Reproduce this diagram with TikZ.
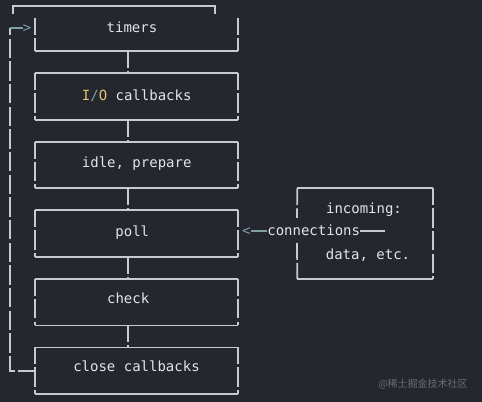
\documentclass[tikz,border=0pt]{standalone}
\usepackage{fontspec}
\setmonofont{DejaVu Sans Mono}
\newfontfamily\cjkfont{Noto Sans CJK SC}
\usetikzlibrary{positioning}
\definecolor{bgcolor}{RGB}{37,39,47}
\definecolor{linecolor}{RGB}{200,202,206}
\definecolor{textcolor}{RGB}{226,228,230}
\definecolor{tipcolor}{RGB}{125,160,165}
\definecolor{iocolor}{RGB}{226,192,112}
\definecolor{markcolor}{RGB}{105,108,116}
\newcommand{\IOname}{\textcolor{iocolor}{I}\textcolor{tipcolor}{/}\textcolor{iocolor}{O}}

\begin{document}
\begin{tikzpicture}[
    x=0.75pt, y=-0.75pt,
    node distance=16.5pt and 44.25pt,
    every node/.style={font=\ttfamily\fontsize{10.5pt}{12pt}\selectfont,
                       text=textcolor, inner sep=0pt},
    stage/.style={rectangle, minimum width=152.25pt, minimum height=34.5pt},
    source/.style={rectangle, minimum width=101.25pt, minimum height=67.5pt},
    label/.style={text height=7.5pt, text depth=0pt},
    hline/.style={draw=linecolor, line width=1.3pt},
    vline/.style={hline, dash pattern=on 14.6pt off 2.4pt, dash phase=2pt},
    tipline/.style={draw=tipcolor, line width=1.3pt}
]
\fill[bgcolor] (0,0) rectangle (482,402);
\useasboundingbox (0,0) rectangle (482,402);

% phases of the loop
\node[stage, minimum height=24.75pt] (timers) at (136.5,34.5) {};
\node[stage, below=of timers] (io) {};
\node[stage, below=of io] (idle) {};
\node[stage, below=of idle] (poll) {};
\node[stage, below=of poll] (check) {};
\node[stage, below=of check] (close) {};
\node[source, right=of poll] (incoming) {};

% box sides
\draw[hline] (timers.south west) -- (timers.south east);
\draw[vline] (timers.north west) -- (timers.south west);
\draw[vline] (timers.north east) -- (timers.south east);
\foreach \n in {io,idle,poll,check,close}{
  \draw[hline] (\n.north west) -- (\n.north east);
  \draw[hline] (\n.south west) -- (\n.south east);
  \draw[vline] (\n.north west) -- (\n.south west);
  \draw[vline] (\n.north east) -- (\n.south east);
}
\draw[hline] (incoming.north west) -- (incoming.north east);
\draw[hline] (incoming.south west) -- (incoming.south east);
\draw[vline] (incoming.north east) -- (incoming.south east);
\draw[vline] (incoming.north west) -- (297,218);
\draw[vline] (297,243) -- (incoming.south west);

% open bracket above timers
\draw[hline] (13,14) -- (13,6) -- (215,6) -- (215,14);

% labels
\node[label] (timerslabel) at (132,28) {timers};
\node[label] (iolabel) at (136.7,96) {\IOname{} callbacks};
\node[label] (idlelabel) at (136.7,163) {idle, prepare};
\node[label] (polllabel) at (132.3,231.5) {poll};
\node[label] (checklabel) at (128.2,298.5) {check};
\node[label] (closelabel) at (136.5,367) {close callbacks};
\node[label] (incominglabel) at (364,209) {incoming:};
\node[label] (connlabel) at (313.7,231) {connections};
\node[label] (datalabel) at (368,254.5) {data, etc.};

% connectors between phases
\coordinate (spine) at (128,0);
\foreach \a/\b in {timers/io,io/idle,idle/poll,poll/check,check/close}
  \draw[vline] (\a.south -| spine) -- (\b.north -| spine);

% loop back to timers
\coordinate (loopx) at (10,0);
\node[label, text=tipcolor] (looptip) at (27,28) {>};
\draw[vline] (close.west) -- (close.west -| loopx) -- (looptip -| loopx);
\draw[tipline] (looptip -| loopx) -- (looptip.west);

% incoming connections
\node[label, text=tipcolor] (conntip) at (246.3,231) {<};
\coordinate (connend) at (385,231);
\draw[tipline] (conntip.east) -- (connlabel.west);
\draw[hline] (connlabel.east) -- (connend);

% watermark
\node[font=\cjkfont\fontsize{7.5pt}{9pt}\selectfont, text=markcolor] (mark) at (423,384) {@稀土掘金技术社区};
\end{tikzpicture}
\end{document}
